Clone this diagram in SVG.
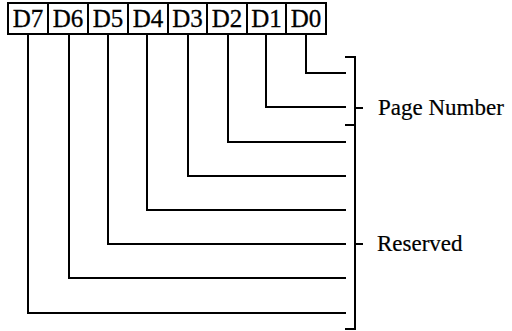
<svg xmlns="http://www.w3.org/2000/svg" width="512" height="331" viewBox="0 0 512 331">
<style>
.box{fill:#fff;stroke:#000;stroke-width:2}
.bt{font-family:"Liberation Serif",serif;font-size:25px;text-anchor:middle;fill:#000;stroke:#000;stroke-width:0.3}
.lbl{font-family:"Liberation Serif",serif;font-size:23px;fill:#000;stroke:#000;stroke-width:0.2}
.ln{fill:none;stroke:#000;stroke-width:2}
</style>
<rect width="512" height="331" fill="#fff"/>
<g id="D7"><rect class="box" x="8" y="3" width="40" height="31"/><text class="bt" x="28" y="27">D7</text></g>
<g id="D6"><rect class="box" x="48" y="3" width="40" height="31"/><text class="bt" x="68" y="27">D6</text></g>
<g id="D5"><rect class="box" x="88" y="3" width="40" height="31"/><text class="bt" x="108" y="27">D5</text></g>
<g id="D4"><rect class="box" x="128" y="3" width="40" height="31"/><text class="bt" x="148" y="27">D4</text></g>
<g id="D3"><rect class="box" x="168" y="3" width="39" height="31"/><text class="bt" x="187.5" y="27">D3</text></g>
<g id="D2"><rect class="box" x="207" y="3" width="40" height="31"/><text class="bt" x="227" y="27">D2</text></g>
<g id="D1"><rect class="box" x="247" y="3" width="39" height="31"/><text class="bt" x="266.5" y="27">D1</text></g>
<g id="D0"><rect class="box" x="286" y="3" width="40" height="31"/><text class="bt" x="306" y="27">D0</text></g>
<g id="connectors" class="ln">
<polyline points="306,34 306,73 346,73"/>
<polyline points="266,34 266,107 346,107"/>
<polyline points="228,34 228,142 346,142"/>
<polyline points="188,34 188,176 346,176"/>
<polyline points="147,34 147,210 346,210"/>
<polyline points="108,34 108,244 346,244"/>
<polyline points="69,34 69,278 346,278"/>
<polyline points="28,34 28,313 346,313"/>
</g>
<g id="page-number">
<polyline class="ln" points="345,57 355,57 355,125 345,125"/>
<line class="ln" x1="355" y1="108" x2="363" y2="108"/>
<text class="lbl" x="378" y="115">Page Number</text>
</g>
<g id="reserved">
<polyline class="ln" points="355,125 355,329 345,329"/>
<line class="ln" x1="355" y1="244" x2="363" y2="244"/>
<text class="lbl" x="377" y="251">Reserved</text>
</g>
</svg>
